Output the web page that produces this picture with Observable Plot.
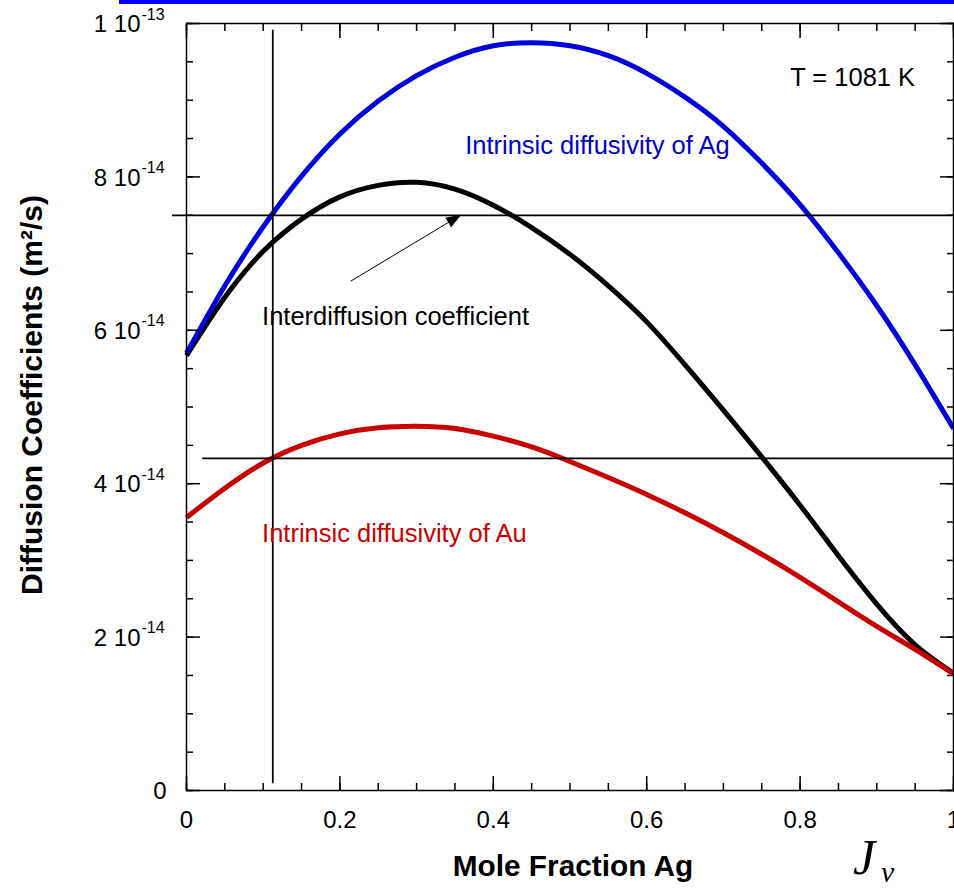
<!DOCTYPE html>
<html>
<head>
<meta charset="utf-8">
<script src="https://cdn.jsdelivr.net/npm/d3@7"></script>
<script src="https://cdn.jsdelivr.net/npm/@observablehq/plot@0.6"></script>
<style>
  html, body { margin: 0; padding: 0; background: #fff; }
  #wrap { position: relative; width: 954px; height: 893px; overflow: hidden; }
  #topbar { position: absolute; left: 119px; top: 0; width: 835px; height: 4px; background: #0000ff; }
  .jv { position: absolute; font-family: "Liberation Serif", "DejaVu Serif", serif; font-style: italic; color: #000; line-height: 1; }
</style>
</head>
<body>
<div id="wrap">
  <div id="chart"></div>
  <div id="topbar"></div>
  <span class="jv" style="left:853px; top:832px; font-size:50px">J</span>
  <span class="jv" style="left:881px; top:857px; font-size:30px">v</span>
</div>
<script>
// Diffusion coefficients across the Au–Ag couple at T = 1081 K.
// Values are in units of 10^-14 m^2/s.
const moleFractionAg = [0, 0.05, 0.10, 0.15, 0.20, 0.25, 0.30, 0.35, 0.40, 0.45, 0.50,
                        0.55, 0.60, 0.65, 0.70, 0.75, 0.80, 0.85, 0.90, 0.95, 1.00];
const intrinsicAg = [5.70, 6.58, 7.35, 8.01, 8.56, 8.99, 9.32, 9.56, 9.71, 9.75, 9.71,
                     9.58, 9.35, 9.04, 8.66, 8.18, 7.64, 7.01, 6.32, 5.55, 4.72];
const interdiffusion = [5.67, 6.43, 7.03, 7.45, 7.74, 7.89, 7.93, 7.84, 7.63, 7.34, 6.99,
                        6.58, 6.11, 5.55, 4.96, 4.35, 3.72, 3.06, 2.43, 1.90, 1.53];
const intrinsicAu = [3.56, 3.94, 4.27, 4.50, 4.65, 4.73, 4.75, 4.72, 4.62, 4.48, 4.29,
                     4.08, 3.86, 3.62, 3.36, 3.08, 2.78, 2.46, 2.14, 1.84, 1.52];

const levelValues = [7.5, 4.33];
const levelStarts = [-0.019, 0.0205];
const planeComposition = 0.1125;
const planeExtent = [0.095, 9.92];

// Arrow pointing from the label to the interdiffusion level line
const arrowFrom = [0.214, 6.64];
const arrowTo = [0.357, 7.50];

// Axis ticks and labels
const xTickValues = [0, 0.2, 0.4, 0.6, 0.8, 1];
const xTickLabels = ["0", "0.2", "0.4", "0.6", "0.8", "1"];
const xMinorTicks = d3.ticks(0, 1, 20);
const yTickValues = [0, 2, 4, 6, 8, 10];
const yTickMantissa = ["0", "2 10", "4 10", "6 10", "8 10", "1 10"];
const yTickExponent = ["", "-14", "-14", "-14", "-14", "-13"];
const yMinorTicks = d3.ticks(0, 10, 20);

const BLUE = "#0000dd";
const BLUE_TEXT = "#0000cc";
const RED = "#c80000";

// layout
const W = 954, H = 893;
const M = {left: 186, right: 1, top: 23, bottom: 103};
const xDomain = [0, 1], yDomain = [0, 10];

const rows = moleFractionAg.map((x, i) => ({
  x, ag: intrinsicAg[i], inter: interdiffusion[i], au: intrinsicAu[i]
}));
const levels = levelValues.map((y, i) => ({y, x1: levelStarts[i], x2: 1}));
const yLabels = yTickValues.map((v, i) => ({v, m: yTickMantissa[i], e: yTickExponent[i]}));
const xLabels = xTickValues.map((v, i) => ({v, t: xTickLabels[i]}));

const notes = [
  {x: 0.3633, y: 8.40, text: "Intrinsic diffusivity of Ag", fill: BLUE_TEXT},
  {x: 0.0985, y: 6.17, text: "Interdiffusion coefficient", fill: "#000"},
  {x: 0.0985, y: 3.35, text: "Intrinsic diffusivity of Au", fill: RED},
  {x: 0.787, y: 9.29, text: "T = 1081 K", fill: "#000"}
];

// direction of the arrow on screen (degrees clockwise from up) for the filled head
const pxX = (W - M.left - M.right) / (xDomain[1] - xDomain[0]);
const pxY = (H - M.top - M.bottom) / (yDomain[1] - yDomain[0]);
const arrowAngle = Math.atan2((arrowTo[0] - arrowFrom[0]) * pxX, (arrowTo[1] - arrowFrom[1]) * pxY) * 180 / Math.PI;

const tickStyle = {tickFormat: () => "", label: null, strokeWidth: 1.5};
const curve = {x: "x", strokeWidth: 5, curve: "natural", strokeLinecap: "butt"};

const chart = Plot.plot({
  width: W,
  height: H,
  marginLeft: M.left,
  marginRight: M.right,
  marginTop: M.top,
  marginBottom: M.bottom,
  style: {fontFamily: "'Liberation Sans', Arial, sans-serif", fontSize: "24px", color: "#000", background: "transparent", overflow: "visible"},
  x: {domain: xDomain},
  y: {domain: yDomain},
  marks: [
    Plot.line(rows, {...curve, y: "inter", stroke: "#000"}),
    Plot.line(rows, {...curve, y: "ag", stroke: BLUE}),
    Plot.line(rows, {...curve, y: "au", stroke: RED}),
    Plot.link(levels, {x1: "x1", x2: "x2", y1: "y", y2: "y", stroke: "#000", strokeWidth: 1.75}),
    Plot.link([planeComposition], {x1: d => d, x2: d => d, y1: planeExtent[0], y2: planeExtent[1], stroke: "#000", strokeWidth: 1.75}),
    Plot.link([0], {x1: arrowFrom[0], y1: arrowFrom[1], x2: arrowTo[0], y2: arrowTo[1], stroke: "#000", strokeWidth: 1}),
    Plot.vector([0], {x: arrowTo[0], y: arrowTo[1], anchor: "end", shape: "spike", length: 14, r: 5, rotate: arrowAngle, fill: "#000", stroke: "#000", strokeWidth: 1}),
    Plot.frame({stroke: "#000", strokeWidth: 1.5}),
    // inward ticks on all four sides
    Plot.axisX(xTickValues, {anchor: "bottom", tickSize: -14, ...tickStyle}),
    Plot.axisX(xMinorTicks, {anchor: "bottom", tickSize: -7, ...tickStyle}),
    Plot.axisX(xTickValues, {anchor: "top", tickSize: -14, ...tickStyle}),
    Plot.axisX(xMinorTicks, {anchor: "top", tickSize: -7, ...tickStyle}),
    Plot.axisY(yTickValues, {anchor: "left", tickSize: -14, ...tickStyle}),
    Plot.axisY(yMinorTicks, {anchor: "left", tickSize: -7, ...tickStyle}),
    Plot.axisY(yTickValues, {anchor: "right", tickSize: -14, ...tickStyle}),
    Plot.axisY(yMinorTicks, {anchor: "right", tickSize: -7, ...tickStyle}),
    // tick labels
    Plot.text(xLabels, {x: "v", text: "t", frameAnchor: "bottom", dy: 37, fontSize: 24}),
    Plot.text(yLabels.filter(d => d.e), {y: "v", text: "m", frameAnchor: "left", dx: -46, dy: 1, textAnchor: "end", fontSize: 24}),
    Plot.text(yLabels.filter(d => d.e), {y: "v", text: "e", frameAnchor: "left", dx: -45, dy: -9, textAnchor: "start", fontSize: 16}),
    Plot.text(yLabels.filter(d => !d.e), {y: "v", text: "m", frameAnchor: "left", dx: -20, dy: 1, textAnchor: "end", fontSize: 24}),
    // axis titles
    Plot.text(["Diffusion Coefficients (m²/s)"], {frameAnchor: "left", dx: -154, dy: -12, rotate: -90, textAnchor: "middle", fontWeight: "bold", fontSize: 30}),
    Plot.text(["Mole Fraction Ag"], {frameAnchor: "bottom", dx: 3, dy: 85, textAnchor: "middle", fontWeight: "bold", fontSize: 29.8}),
    // annotations
    Plot.text(notes, {x: "x", y: "y", text: "text", fill: "fill", textAnchor: "start", fontSize: 25.5})
  ]
});
document.getElementById("chart").append(chart);
</script>
</body>
